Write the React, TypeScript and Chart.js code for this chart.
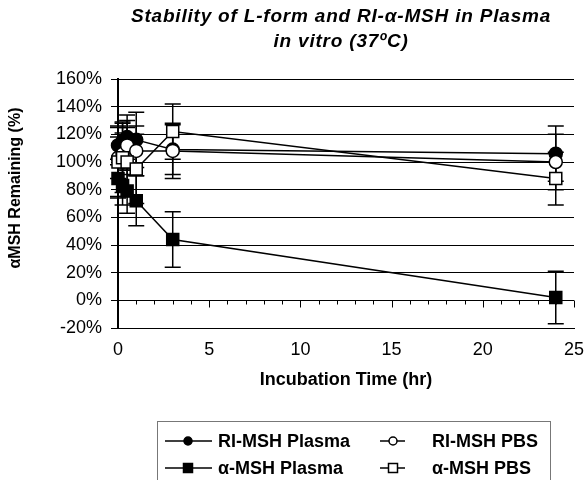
import React, { useEffect, useRef } from 'react';
import { Chart, registerables } from 'chart.js';
Chart.register(...registerables);

const titleLines = ['Stability of L-form and RI-α-MSH in Plasma', 'in vitro (37ºC)'];
const xTitle = 'Incubation Time (hr)';
const yTitle = 'αMSH Remaining (%)';

const times = [0, 0.25, 0.5, 1, 3, 24];
const seriesNames = ['RI-MSH Plasma', 'RI-MSH PBS', 'α-MSH Plasma', 'α-MSH PBS'];
const riPlasma = [112, 115, 118, 116, 109, 106];
const riPlasmaErr = [14, 14, 16, 20, 18, 20];
const riPbs = [103, 106, 112, 108, 108, 100];
const riPbsErr = [15, 15, 18, 18, 20, 20];
const aPlasma = [88, 83, 79, 72, 44, 2];
const aPlasmaErr = [14, 14, 16, 18, 20, 19];
const aPbs = [100, 103, 100, 95, 122, 88];
const aPbsErr = [25, 25, 25, 25, 20, 19];

const seriesValues = [riPlasma, riPbs, aPlasma, aPbs];
const seriesErrs = [riPlasmaErr, riPbsErr, aPlasmaErr, aPbsErr];
const seriesStyles = ['circle', 'circle', 'rect', 'rect'];
const seriesFilled = [true, false, true, false];

const FONT = "'Liberation Sans', Arial, sans-serif";

const errorBarsPlugin = {
  id: 'errorBars',
  beforeDatasetsDraw(chart: any) {
    const { ctx, scales } = chart;
    const x = scales.x, y = scales.y;
    ctx.save();
    ctx.strokeStyle = '#000';
    ctx.lineWidth = 1.5;
    seriesValues.forEach((vals, si) => {
      const errs = seriesErrs[si];
      vals.forEach((v, i) => {
        const px = x.getPixelForValue(times[i]);
        const top = y.getPixelForValue(v + errs[i]);
        const bot = y.getPixelForValue(v - errs[i]);
        ctx.beginPath();
        ctx.moveTo(px, top);
        ctx.lineTo(px, bot);
        ctx.moveTo(px - 8, top);
        ctx.lineTo(px + 8, top);
        ctx.moveTo(px - 8, bot);
        ctx.lineTo(px + 8, bot);
        ctx.stroke();
      });
    });
    // x-axis tick marks along the 0% line
    const y0 = Math.round(y.getPixelForValue(0)) + 0.5;
    ctx.lineWidth = 1;
    for (let t = 0; t <= 25; t++) {
      const px = Math.round(x.getPixelForValue(t)) + 0.5;
      ctx.beginPath();
      ctx.moveTo(px, y0);
      ctx.lineTo(px, y0 + (t % 5 === 0 ? 7 : 4));
      ctx.stroke();
    }
    ctx.restore();
  },
};

const decorPlugin = {
  id: 'decor',
  afterDraw(chart: any) {
    const { ctx } = chart;
    ctx.save();
    ctx.fillStyle = '#000';
    // title
    ctx.textAlign = 'center';
    ctx.textBaseline = 'middle';
    ctx.font = `italic bold 19px ${FONT}`;
    (ctx as any).letterSpacing = '0.8px';
    ctx.fillText(titleLines[0], 341, 17);
    ctx.fillText(titleLines[1], 341, 42);
    (ctx as any).letterSpacing = '0px';
    // y title
    ctx.save();
    ctx.translate(16, 188);
    ctx.rotate(-Math.PI / 2);
    ctx.font = `bold 16px ${FONT}`;
    ctx.fillText(yTitle, 0, 0);
    ctx.restore();
    // legend
    ctx.strokeStyle = '#777';
    ctx.lineWidth = 1;
    ctx.strokeRect(157.5, 421.5, 393, 80);
    const rows = [441, 468];
    const cols = [
      { l: 165, r: 212, m: 188, t: 218 },
      { l: 380, r: 405, m: 393, t: 432 },
    ];
    const order = [[0, 1], [2, 3]];
    ctx.font = `bold 18px ${FONT}`;
    ctx.textAlign = 'left';
    order.forEach((row, ri) => {
      row.forEach((si, ci) => {
        const c = cols[ci];
        const yy = rows[ri];
        ctx.strokeStyle = '#000';
        ctx.lineWidth = 1.5;
        ctx.beginPath();
        ctx.moveTo(c.l, yy);
        ctx.lineTo(c.r, yy);
        ctx.stroke();
        ctx.fillStyle = seriesFilled[si] ? '#000' : '#fff';
        ctx.beginPath();
        if (seriesStyles[si] === 'circle') {
          ctx.arc(c.m, yy, 4, 0, Math.PI * 2);
        } else {
          ctx.rect(c.m - 4.5, yy - 4.5, 9, 9);
        }
        ctx.fill();
        ctx.stroke();
        ctx.fillStyle = '#000';
        ctx.fillText(seriesNames[si], c.t, yy + 1);
      });
    });
    ctx.restore();
  },
};

export default function App() {
  const ref = useRef<HTMLCanvasElement>(null);
  useEffect(() => {
    document.body.style.margin = '0';
    const canvas = ref.current!;
    const datasets = seriesValues.map((vals, si) => ({
      label: seriesNames[si],
      data: vals.map((v, i) => ({ x: times[i], y: v })),
      borderColor: '#000',
      borderWidth: 1.5,
      pointStyle: seriesStyles[si],
      pointRadius: seriesStyles[si] === 'circle' ? 6.5 : 8.5,
      pointBackgroundColor: seriesFilled[si] ? '#000' : '#fff',
      pointBorderColor: '#000',
      pointBorderWidth: 1.5,
      fill: false,
      tension: 0,
      clip: false as any,
      order: 3 - si,
    }));
    const chart = new Chart(canvas, {
      type: 'line',
      data: { datasets: datasets as any },
      options: {
        animation: false,
        responsive: false,
        devicePixelRatio: 1,
        layout: { padding: { top: 79, left: 0, right: 12, bottom: 82 } },
        plugins: { legend: { display: false }, title: { display: false }, tooltip: { enabled: false } },
        scales: {
          x: {
            type: 'linear',
            min: 0,
            max: 25,
            ticks: { stepSize: 5, color: '#000', padding: 11, font: { family: FONT, size: 18 }, maxRotation: 0 },
            grid: { display: false, drawTicks: false },
            border: { display: true, color: '#000', width: 1 },
            title: { display: true, text: xTitle, color: '#000', font: { family: FONT, size: 18, weight: 'bold' }, padding: { top: 4, bottom: 7 } },
            afterFit: (s: any) => { s.height = 70; s.paddingRight = 8; s.paddingLeft = 8; },
          },
          y: {
            min: -20,
            max: 160,
            ticks: { stepSize: 20, color: '#000', padding: 9, font: { family: FONT, size: 18 }, callback: (v: any) => v + '%' },
            grid: { color: '#000', lineWidth: 1, tickLength: 7, drawTicks: true },
            border: { display: true, color: '#000', width: 2 },
            afterFit: (s: any) => { s.width = 118; },
          },
        },
      },
      plugins: [errorBarsPlugin, decorPlugin],
    });
    return () => chart.destroy();
  }, []);
  return (
    <div style={{ position: 'absolute', left: 0, top: 0, width: 586, height: 480 }}>
      <canvas ref={ref} width={586} height={480} />
    </div>
  );
}
